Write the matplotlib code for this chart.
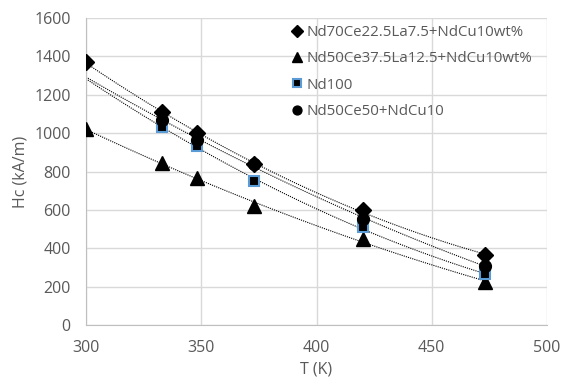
import numpy as np
import matplotlib.pyplot as plt

# -------------------------
# DATA
# -------------------------

t_a = [300, 333, 348, 373, 420, 473]
hc_a = [1370, 1110, 1000, 840, 600, 365]

t_b = [300, 333, 348, 373, 420, 473]
hc_b = [1020, 845, 765, 620, 450, 225]

t_c = [333, 348, 373, 420, 473]
hc_c = [1032, 935, 748, 510, 265]

t_d = [333, 348, 373, 420, 473]
hc_d = [1070, 965, 840, 550, 310]

labels = [
    "Nd70Ce22.5La7.5+NdCu10wt%",
    "Nd50Ce37.5La12.5+NdCu10wt%",
    "Nd100",
    "Nd50Ce50+NdCu10",
]

plt.rcParams["font.family"] = ["Open Sans", "DejaVu Sans"]
grey = "#595959"

fig = plt.figure(figsize=(5.62, 3.81), dpi=100)
ax = fig.add_axes([86 / 562, 1 - 325 / 381, (547 - 86) / 562, (325 - 18) / 381])

# -------------------------
# TRENDLINES (2nd order poly, forecast back to 300 K)
# -------------------------

xx = np.linspace(300, 473, 100)
for tx, hy in [(t_a, hc_a), (t_b, hc_b), (t_c, hc_c), (t_d, hc_d)]:
    p = np.polyfit(tx, hy, 2)
    ax.plot(xx, np.polyval(p, xx), color="black", lw=0.8,
            linestyle=(0, (1, 1)), zorder=2)

# -------------------------
# POINTS
# -------------------------

ax.plot(t_a, hc_a, "D", color="black", ms=8, label=labels[0], zorder=3)
ax.plot(t_b, hc_b, "^", color="black", ms=9.5, label=labels[1], zorder=3)
ax.plot(t_c, hc_c, "s", mfc="black", mec="#5B9BD5", mew=1.5, ms=7.5,
        label=labels[2], zorder=3)
ax.plot(t_d, hc_d, "o", color="black", ms=8.5, label=labels[3], zorder=3)

ax.set_xlim(300, 500)
ax.set_ylim(0, 1600)
ax.set_xticks([300, 350, 400, 450, 500])
ax.set_yticks(range(0, 1601, 200))
ax.grid(True, color="#d9d9d9", lw=1)
ax.set_axisbelow(True)

for s in ["top", "right"]:
    ax.spines[s].set_visible(False)
for s in ["left", "bottom"]:
    ax.spines[s].set_color("#bfbfbf")
ax.tick_params(length=0, colors=grey, labelsize=11.5)
ax.tick_params(axis="x", pad=11)
ax.tick_params(axis="y", pad=11)

ax.set_xlabel("T (K)", color=grey, fontsize=11.5, labelpad=4)
ax.set_ylabel("Hc (kA/m)", color=grey, fontsize=11.5, labelpad=4)

leg = ax.legend(loc="upper left", bbox_to_anchor=(0.425, 0.997), frameon=False,
                fontsize=10.8, handletextpad=0.05, labelspacing=0.76,
                handlelength=1.2, markerscale=0.75, borderaxespad=0)
for t in leg.get_texts():
    t.set_color(grey)

fig.savefig("out.png", dpi=100)
